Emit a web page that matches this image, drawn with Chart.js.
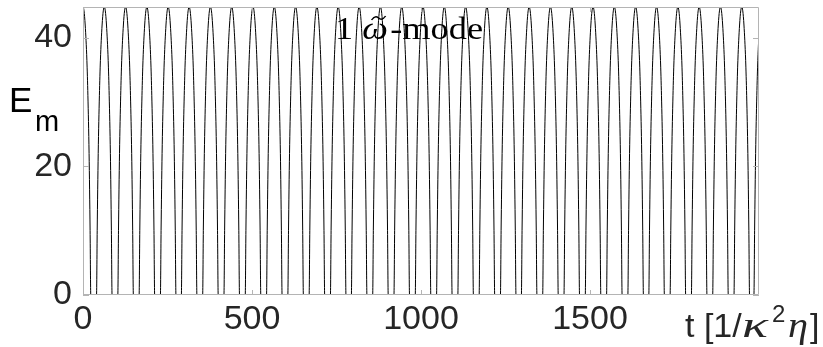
<!DOCTYPE html>
<html>
<head>
  <title>E_m oscillation</title>
  <script src="https://cdn.jsdelivr.net/npm/chart.js"></script>
  <style>
    body { margin: 0; background: white; }
    #wrap { width: 823px; height: 347px; }
  </style>
</head>
<body>
<div id="wrap"><canvas id="emChart" width="823" height="347"></canvas></div>

<script>
// peak times (one arch per peak, last one is cut by the axis)
const peakTimes = [0, 63, 126, 189, 252, 314, 377, 440, 503, 566, 629, 692, 755, 817, 880, 943,
  1006, 1069, 1132, 1195, 1258, 1320, 1383, 1446, 1509, 1572, 1635, 1697, 1760, 1823, 1886, 1949, 2008];
// shape of a single arch, read from one of them: time offset from the peak and E_m level
const archOffsets = [-23, -21, -18, -14.5, -11.5, -6.5, -3, 0, 3, 6.5, 11.5, 14.5, 18, 21, 23];
const archLevels  = [0, 10, 22, 31, 36.5, 42, 44.2, 44.8, 44.2, 42, 36.5, 31, 22, 10, 0];

const xTicks = [0, 500, 1000, 1500];
const yTicks = [0, 20, 40];

const labelColor = '#262626';
const boxColor = '#b4b4b4';
const sans = 'Liberation Sans, Arial, sans-serif';
const serif = 'Liberation Serif, Times New Roman, serif';

const points = [];
peakTimes.forEach(tp => {
  archOffsets.forEach((dt, i) => points.push({ x: tp + dt, y: archLevels[i] }));
});

// draw a text piece squeezed/stretched to a given width
function fitText(ctx, txt, font, x, y, w) {
  ctx.font = font;
  const k = w / ctx.measureText(txt).width;
  ctx.save();
  ctx.translate(x, y);
  ctx.scale(k, 1);
  ctx.fillText(txt, 0, 0);
  ctx.restore();
}

const frame = {
  id: 'frame',
  afterDatasetsDraw(chart) {
    const ctx = chart.ctx;
    const a = chart.chartArea;
    const xs = chart.scales.x, ys = chart.scales.y;
    ctx.save();
    ctx.strokeStyle = boxColor;
    ctx.lineWidth = 1;
    ctx.beginPath();
    ctx.rect(Math.round(a.left) + 0.5, Math.round(a.top) + 0.5,
      Math.round(a.right - a.left) - 1, Math.round(a.bottom - a.top) - 1);
    // inward ticks
    xTicks.forEach(v => {
      const px = Math.round(xs.getPixelForValue(v)) + 0.5;
      ctx.moveTo(px, a.bottom); ctx.lineTo(px, a.bottom - 5);
      ctx.moveTo(px, a.top); ctx.lineTo(px, a.top + 5);
    });
    yTicks.forEach(v => {
      const py = Math.round(ys.getPixelForValue(v)) + 0.5;
      ctx.moveTo(a.left, py); ctx.lineTo(a.left + 6, py);
      ctx.moveTo(a.right, py); ctx.lineTo(a.right - 6, py);
    });
    ctx.stroke();

    // title inside plot: "1 ω̃-mode", stretched to the width seen in the picture
    ctx.fillStyle = '#000';
    ctx.textBaseline = 'alphabetic';
    ctx.textAlign = 'left';
    const ty = 39, tLeft = 335, tWidth = 148;
    const f1 = '31px ' + serif, f2 = 'italic 31px ' + serif;
    ctx.font = f1; const w1 = ctx.measureText('1 ').width, w3 = ctx.measureText('-mode').width;
    ctx.font = f2; const w2 = ctx.measureText('\u03c9').width + 2;
    const k = tWidth / (w1 + w2 + w3);
    ctx.save();
    ctx.translate(tLeft, 0);
    ctx.scale(k, 1);
    ctx.font = f1; ctx.fillText('1 ', 0, ty);
    ctx.font = f2; ctx.fillText('\u03c9', w1, ty);
    ctx.font = f1; ctx.fillText('-mode', w1 + w2, ty);
    // tilde over omega
    const cx = w1 + w2 / 2 + 2;
    ctx.lineWidth = 1.3;
    ctx.strokeStyle = '#000';
    ctx.beginPath();
    ctx.moveTo(cx - 6, 20);
    ctx.bezierCurveTo(cx - 3, 15, cx - 1, 17, cx, 18);
    ctx.bezierCurveTo(cx + 1, 19, cx + 3, 21, cx + 6, 16);
    ctx.stroke();
    ctx.restore();

    // y axis label E_m
    ctx.fillStyle = '#000';
    ctx.font = '35px ' + sans;
    ctx.fillText('E', 9, 112);
    ctx.font = '29px ' + sans;
    ctx.fillText('m', 35, 131);

    // x axis label t [1/κ²η]
    ctx.fillStyle = labelColor;
    const ly = 337;
    ctx.font = '34px ' + sans;
    ctx.fillText('t [1/', 685, ly);
    fitText(ctx, '\u03ba', 'italic 36px ' + serif, 742, ly, 26);
    ctx.font = '24px ' + sans;
    ctx.fillText('2', 772, 322);
    fitText(ctx, '\u03b7', 'italic 36px ' + serif, 788, ly, 20);
    ctx.font = '34px ' + sans;
    ctx.fillText(']', 810, ly);
    ctx.restore();
  }
};

new Chart(document.getElementById('emChart'), {
  type: 'line',
  data: {
    datasets: [{
      data: points,
      borderColor: '#000',
      borderWidth: 1,
      pointRadius: 0,
      cubicInterpolationMode: 'monotone',
      fill: false
    }]
  },
  options: {
    responsive: false,
    animation: false,
    layout: { padding: { top: 7, right: 64, left: 0, bottom: 0 } },
    plugins: { legend: { display: false }, tooltip: { enabled: false } },
    scales: {
      x: {
        type: 'linear', min: 0, max: 2000,
        afterBuildTicks: s => { s.ticks = xTicks.map(v => ({ value: v })); },
        afterFit: s => { s.height = 52; s.paddingLeft = 0; s.paddingRight = 0; },
        grid: { display: false, drawTicks: false },
        border: { display: false },
        ticks: { color: labelColor, font: { family: sans, size: 34, lineHeight: 1 }, padding: 8,
          maxRotation: 0, autoSkip: false, callback: v => String(v) }
      },
      y: {
        min: 0, max: 44.8,
        afterBuildTicks: s => { s.ticks = yTicks.map(v => ({ value: v })); },
        afterFit: s => { s.width = 83; s.paddingTop = 0; s.paddingBottom = 0; },
        grid: { display: false, drawTicks: false },
        border: { display: false },
        ticks: { color: labelColor, font: { family: sans, size: 34, lineHeight: 1 }, padding: 11,
          callback: v => String(v) }
      }
    }
  },
  plugins: [frame]
});
</script>
</body>
</html>
